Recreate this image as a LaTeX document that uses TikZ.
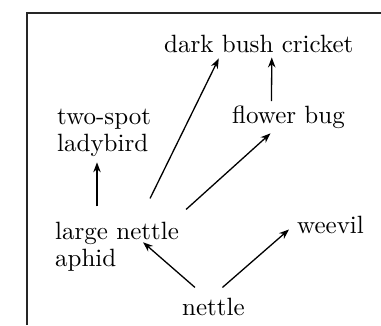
\documentclass[tikz,border=0pt]{standalone}
\usepackage{fontspec}
\setmainfont{lmroman10-regular.otf}
\usetikzlibrary{arrows.meta}

\begin{document}
\begin{tikzpicture}[
    x=1pt, y=-1pt,
    organism/.style = {
        inner sep=0pt,
        anchor=base west,
        align=left,
        font=\fontsize{25}{27}\selectfont
    },
    arrow/.style = {-{Stealth[length=10pt,width=7.5pt]}, line width=1.3pt, draw=black},
    frame/.style = {line width=1.5pt, draw=black!85}
]

\useasboundingbox (0,0) rectangle (381,325);

% Frame (top and left edges only)
\draw[frame] (27,325) -- (27,13) -- (381,13);

% Organisms
\node[organism] (cricket)   at (164,52)  {dark bush cricket};
\node[organism] (ladybird)  at (57,151)  {two-spot\\ladybird};
\node[organism] (flowerbug) at (232,123) {flower bug};
\node[organism] (aphid)     at (55,266)  {large nettle\\aphid};
\node[organism] (weevil)    at (297,233) {weevil};
\node[organism] (nettle)    at (182,315) {nettle};

% Feeding links
\draw[arrow] ([xshift=33pt,yshift=23pt]aphid.north) -- ([xshift=-40pt,yshift=-6pt]cricket.south);
\draw[arrow] ([xshift=-17pt,yshift=4pt]flowerbug.north) -- ([xshift=13pt,yshift=-5pt]cricket.south);
\draw[arrow] ([xshift=7pt,yshift=12pt]aphid.north east) -- ([xshift=-18pt,yshift=-5pt]flowerbug.south);
\draw[arrow] ([xshift=42pt,yshift=15pt]aphid.north west) -- ([xshift=40pt,yshift=-6pt]ladybird.south west);
\draw[arrow] ([xshift=13pt,yshift=10pt]nettle.north west) -- ([xshift=-36pt,yshift=4pt]aphid.east);
\draw[arrow] ([xshift=9pt,yshift=10pt]nettle.north) -- ([xshift=-8pt,yshift=-5pt]weevil.west);

\end{tikzpicture}
\end{document}
